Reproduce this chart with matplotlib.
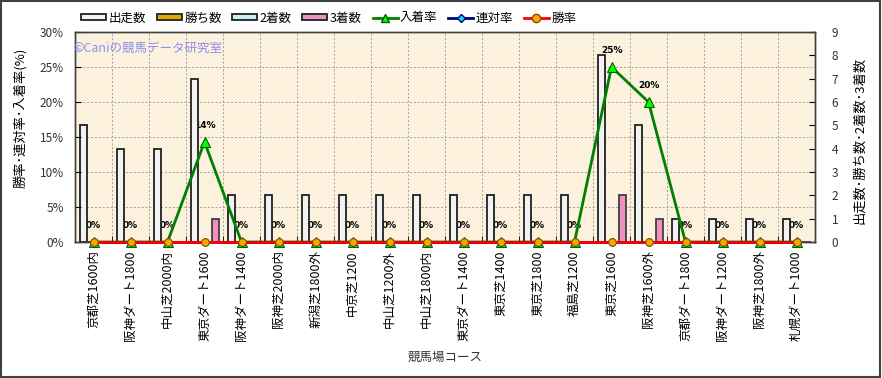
import matplotlib
matplotlib.use('Agg')
import matplotlib.pyplot as plt
from matplotlib.patches import Rectangle, Patch
from matplotlib.lines import Line2D

plt.rcParams['font.family'] = ['Noto Sans CJK JP', 'DejaVu Sans']

courses = ['京都芝1600内', '阪神ダート1800', '中山芝2000内', '東京ダート1600', '阪神ダート1400',
           '阪神芝2000内', '新潟芝1800外', '中京芝1200', '中山芝1200外', '中山芝1800内',
           '東京ダート1400', '東京芝1400', '東京芝1800', '福島芝1200', '東京芝1600',
           '阪神芝1600外', '京都ダート1800', '阪神ダート1200', '阪神芝1800外', '札幌ダート1000']
starts  = [5, 4, 4, 7, 2, 2, 2, 2, 2, 2, 2, 2, 2, 2, 8, 5, 1, 1, 1, 1]
wins    = [0, 0, 0, 0, 0, 0, 0, 0, 0, 0, 0, 0, 0, 0, 0, 0, 0, 0, 0, 0]
seconds = [0, 0, 0, 0, 0, 0, 0, 0, 0, 0, 0, 0, 0, 0, 0, 0, 0, 0, 0, 0]
thirds  = [0, 0, 0, 1, 0, 0, 0, 0, 0, 0, 0, 0, 0, 0, 2, 1, 0, 0, 0, 0]
place_rate  = [0, 0, 0, 14.3, 0, 0, 0, 0, 0, 0, 0, 0, 0, 0, 25, 20, 0, 0, 0, 0]
rentai_rate = [0, 0, 0, 0, 0, 0, 0, 0, 0, 0, 0, 0, 0, 0, 0, 0, 0, 0, 0, 0]
win_rate    = [0, 0, 0, 0, 0, 0, 0, 0, 0, 0, 0, 0, 0, 0, 0, 0, 0, 0, 0, 0]
pct_ticks = [0, 5, 10, 15, 20, 25, 30]
count_ticks = [0, 1, 2, 3, 4, 5, 6, 7, 8, 9]

W, H = 882, 378
fig = plt.figure(figsize=(W / 100, H / 100), dpi=100)
fig.patch.set_facecolor('white')
L, R, T, B = 75, 815, 32, 242
ax = fig.add_axes([L / W, 1 - B / H, (R - L) / W, (B - T) / H])
ax2 = ax.twinx()
ax.set_zorder(2)
ax2.set_zorder(1)
ax.patch.set_visible(False)
ax2.patch.set_visible(True)
ax2.patch.set_facecolor('#FBF1DC')

n = len(courses)
x = list(range(n))
ax.set_xlim(-0.5, n - 0.5)
ax.set_ylim(0, 30)
ax2.set_ylim(0, 9)

# grid on background axes
for k in range(1, n):
    ax2.axvline(k - 0.5, color='#A0A0A0', lw=0.7, ls=(0, (2, 2)), zorder=1)
for p in pct_ticks[1:-1]:
    ax2.axhline(p * 9 / 30, color='#A0A0A0', lw=0.7, ls=(0, (2, 2)), zorder=1)

bw = 0.185
offs = [-0.26, -0.075, 0.11, 0.295]
series = [(starts, '#F2F2F2', '#202020'), (wins, '#E0A800', '#404040'),
          (seconds, '#C8F0F0', '#404040'), (thirds, '#F090C0', '#404040')]
for (vals, fc, ec), o in zip(series, offs):
    ax2.bar([xi + o for xi in x], vals, width=bw, color=fc, edgecolor=ec, lw=1.3, zorder=3)

# data labels (below bars)
for xi, v in zip(x, place_rate):
    ax2.annotate(f'{round(v)}%', xy=(xi, v), xycoords=ax.transData, xytext=(0, 12),
                 textcoords='offset points', ha='center', va='center', fontsize=6.5,
                 fontweight='bold', family=['DejaVu Sans'], zorder=2)

ax.plot(x, place_rate, color='#008000', lw=2, marker='^', ms=7, mfc='#00FF00', mec='#006000',
        mew=0.8, clip_on=False, zorder=3)
ax.plot(x, rentai_rate, color='#000080', lw=2, marker='D', ms=4, mfc='#00E0E0', mec='#000080',
        mew=0.8, clip_on=False, zorder=4)
ax.plot(x, win_rate, color='#FF0000', lw=2, marker='o', ms=5.5, mfc='#FFA500', mec='#805000',
        mew=0.8, clip_on=False, zorder=5)

ax.set_xticks(x)
ax.set_xticklabels(courses, rotation=90, fontsize=9, va='top', ha='center')
ax.tick_params(axis='x', length=0, pad=6)
ax.set_xticks([k - 0.5 for k in range(1, n)], minor=True)
ax.tick_params(axis='x', which='minor', length=4, direction='in')
ax.set_yticks(pct_ticks)
ax.set_yticklabels([f'{p}%' for p in pct_ticks], fontsize=8.5, color='#333333')
ax.tick_params(axis='y', direction='in', length=4, pad=8)
ax2.set_yticks(count_ticks)
ax2.set_yticklabels([str(c) for c in count_ticks], fontsize=8.5, color='#333333')
ax2.tick_params(axis='y', direction='in', length=4, pad=12)
for a in (ax, ax2):
    for s in a.spines.values():
        s.set_color('#404040')
        s.set_linewidth(1)

fig.text(20 / W, 1 - 118 / H, '勝率･連対率･入着率(%)', rotation=90, ha='center', va='center', fontsize=9.5)
fig.text(860 / W, 1 - 140 / H, '出走数･勝ち数･2着数･3着数', rotation=90, ha='center', va='center', fontsize=9.5)
fig.text(445 / W, 1 - 357 / H, '競馬場コース', ha='center', va='center', fontsize=9, color='#333333')
fig.text(73 / W, 1 - 48 / H, '©Caniの競馬データ研究室', ha='left', va='center', fontsize=9,
         color='#8C8CF0', zorder=10)

handles = [Patch(facecolor='#F2F2F2', edgecolor='#202020', lw=1.3),
           Patch(facecolor='#E0A800', edgecolor='#202020', lw=1.3),
           Patch(facecolor='#C8F0F0', edgecolor='#202020', lw=1.3),
           Patch(facecolor='#F090C0', edgecolor='#202020', lw=1.3),
           Line2D([], [], color='#008000', lw=2, marker='^', ms=6, mfc='#00FF00', mec='#006000'),
           Line2D([], [], color='#000080', lw=2, marker='D', ms=4, mfc='#00E0E0', mec='#000080'),
           Line2D([], [], color='#FF0000', lw=2, marker='o', ms=6, mfc='#FFA500', mec='#805000')]
labels = ['出走数', '勝ち数', '2着数', '3着数', '入着率', '連対率', '勝率']
fig.legend(handles, labels, loc='center left', bbox_to_anchor=(81 / W, 1 - 18 / H), ncol=7,
           frameon=False, fontsize=9, handlelength=2.0, handleheight=0.45, columnspacing=0.85,
           handletextpad=0.2, borderaxespad=0, borderpad=0)

fig.add_artist(Rectangle((0.001, 0.002), 0.997, 0.995, transform=fig.transFigure, fill=False,
                         edgecolor='#404040', lw=1.5))

fig.savefig('out.png', dpi=100)
